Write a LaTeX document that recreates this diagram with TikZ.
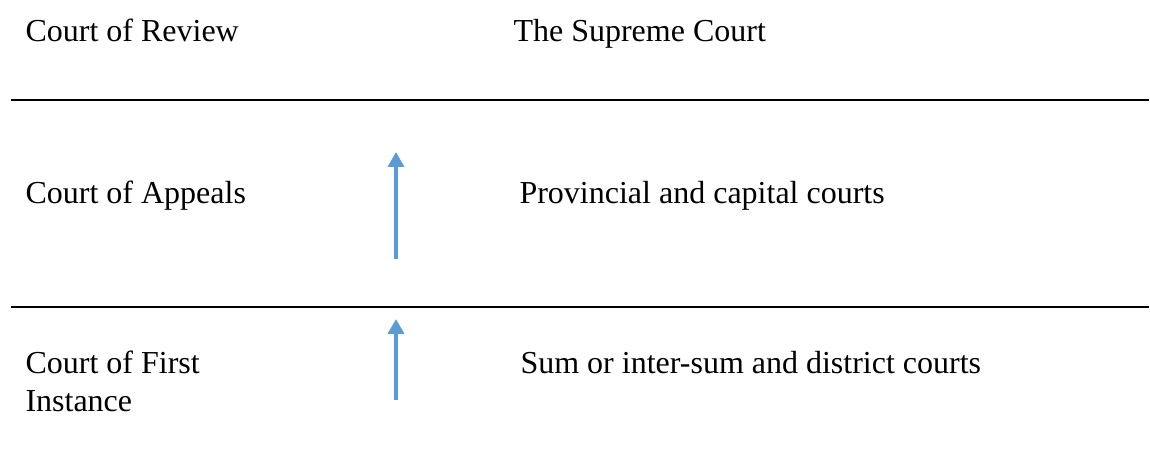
\documentclass[tikz,border=0pt]{standalone}
\usepackage{fontspec}
\setmainfont{Liberation Serif}
\usetikzlibrary{arrows.meta}
\definecolor{arrowblue}{HTML}{5B9BD5}
\tikzset{
  courtlabel/.style={anchor=base west, inner sep=0pt, font=\fontsize{12}{14.25}\selectfont},
  divider/.style={black, line width=0.75pt},
  uparrow/.style={arrowblue, -{Triangle[width=6pt,length=5.6pt]}},
}

\begin{document}
\begin{tikzpicture}[x=0.375pt, y=-0.375pt]
  \useasboundingbox (0,0) rectangle (1150,450);

  \node [courtlabel] (review) at (25,42) {Court of Review}; % top level
  \node [courtlabel] (supreme) at (513,42) {The Supreme Court};

  \coordinate (topleft) at (11,100);
  \coordinate (topright) at (1149,100);
  \draw [divider] (topleft) -- (topright); % Draws a divider

  \node [courtlabel] (appeals) at (25,203) {Court of Appeals}; % middle level
  \node [courtlabel] (provincial) at (519,203) {Provincial and capital courts};

  \coordinate (appealsfoot) at (396,259);
  \coordinate (appealshead) at (396,152);
  \draw [uparrow, line width=1.2pt] (appealsfoot) -- (appealshead); % Draws an arrow

  \coordinate (midleft) at (11,307);
  \coordinate (midright) at (1149,307);
  \draw [divider] (midleft) -- (midright); % Draws a divider

  \node [courtlabel] (first) at (25,373) {\vtop{\hbox{Court of First}\hbox{Instance}}}; % bottom level
  \node [courtlabel] (district) at (520,373) {Sum or inter-sum and district courts};

  \coordinate (firstfoot) at (396,400);
  \coordinate (firsthead) at (396,319);
  \draw [uparrow, line width=1.5pt] (firstfoot) -- (firsthead); % Draws an arrow
\end{tikzpicture}
\end{document}
